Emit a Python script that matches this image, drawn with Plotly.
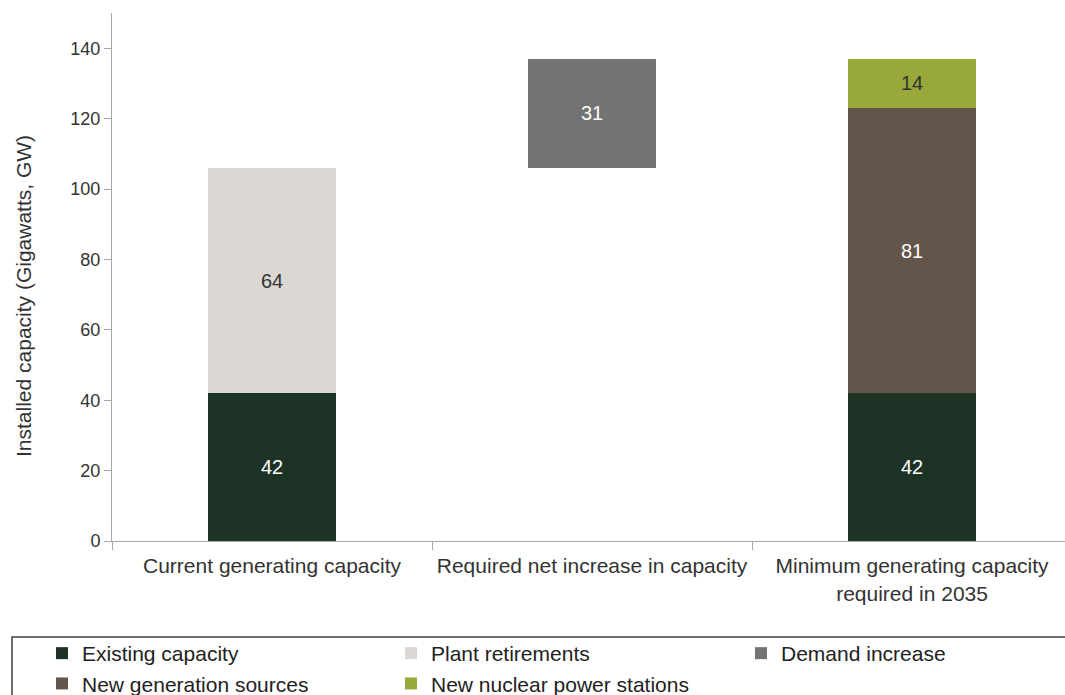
import plotly.graph_objects as go

categories = ["Current generating capacity", "Required net increase in capacity",
              "Minimum generating capacity<br>required in 2035"]
existing = [42, None, 42]
retirements = [64, None, None]
demand_increase = [None, 31, None]
new_generation = [None, None, 81]
new_nuclear = [None, None, 14]

current_total = existing[0] + retirements[0]
demand_base = [None, current_total, None]

colors = {
    "Existing capacity": "#1d3325",
    "Plant retirements": "#dbd7d3",
    "Demand increase": "#737373",
    "New generation sources": "#63554a",
    "New nuclear power stations": "#98a83a",
}
label_colors = {
    "Existing capacity": "white",
    "Plant retirements": "#333333",
    "Demand increase": "white",
    "New generation sources": "white",
    "New nuclear power stations": "#333333",
}
# legend column each series sits in (reference legend: 3 columns x 2 rows)
legend_of = {
    "Existing capacity": "legend",
    "New generation sources": "legend",
    "Plant retirements": "legend2",
    "New nuclear power stations": "legend2",
    "Demand increase": "legend3",
}

FONT = "Liberation Sans, Arial, sans-serif"
fig = go.Figure()

def add(name, vals, base=None):
    fig.add_trace(go.Bar(
        x=categories, y=vals, name=name, base=base,
        marker=dict(color=colors[name], line=dict(width=0)),
        width=0.4,
        text=[str(v) if v is not None else "" for v in vals],
        textposition="inside", insidetextanchor="middle",
        textfont=dict(color=label_colors[name], size=20, family=FONT),
        textangle=0,
        legend=legend_of[name],
    ))

add("Existing capacity", existing)
add("Plant retirements", retirements)
add("Demand increase", demand_increase, base=demand_base)
add("New generation sources", new_generation)
add("New nuclear power stations", new_nuclear)

W, H = 1065, 695
L, T, B = 112, 13, 154
PH = H - T - B
leg_top = 1 - 633 / H

def leg(xpx):
    return dict(
        orientation="v", x=xpx / W, xanchor="left", xref="container",
        y=leg_top, yanchor="top", yref="container",
        font=dict(size=21, color="#222222", family=FONT),
        bgcolor="rgba(0,0,0,0)", traceorder="normal",
        itemclick=False, itemdoubleclick=False, borderwidth=0,
    )

fig.update_layout(
    width=W, height=H,
    margin=dict(l=L, r=0, t=T, b=B, autoexpand=False),
    barmode="stack",
    plot_bgcolor="white", paper_bgcolor="white",
    font=dict(family=FONT, size=18, color="#333333"),
    showlegend=True,
    legend=leg(42), legend2=leg(391), legend3=leg(741),
)
fig.update_xaxes(
    range=[-0.5, 2.478], showgrid=False, showline=True, linecolor="#a6a6a6", linewidth=1,
    ticks="outside", tickson="boundaries", ticklen=8, tickcolor="#a6a6a6",
    tickfont=dict(size=21, color="#333333"), ticklabelstandoff=6,
)
fig.update_yaxes(
    range=[0, 150], showgrid=False, showline=True, linecolor="#a6a6a6", linewidth=1,
    ticks="outside", ticklen=7, tickcolor="#a6a6a6", tickvals=[0, 20, 40, 60, 80, 100, 120, 140],
    tickfont=dict(size=18, color="#333333"),
    zeroline=False,
)
fig.add_annotation(
    text="Installed capacity (Gigawatts, GW)", textangle=-90,
    xref="paper", yref="paper",
    x=(23 - L) / (W - L), y=(541 - 296) / PH, xanchor="center", yanchor="middle",
    showarrow=False, font=dict(size=21, color="#333333", family=FONT),
)
fig.add_shape(type="rect", xref="paper", yref="paper",
              x0=(12 - L) / (W - L), x1=(W + 10 - L) / (W - L),
              y0=-(H + 10 - 541) / PH, y1=-(637 - 541) / PH,
              line=dict(color="#404040", width=1.5), fillcolor="rgba(0,0,0,0)")
fig.write_html("out.html")
